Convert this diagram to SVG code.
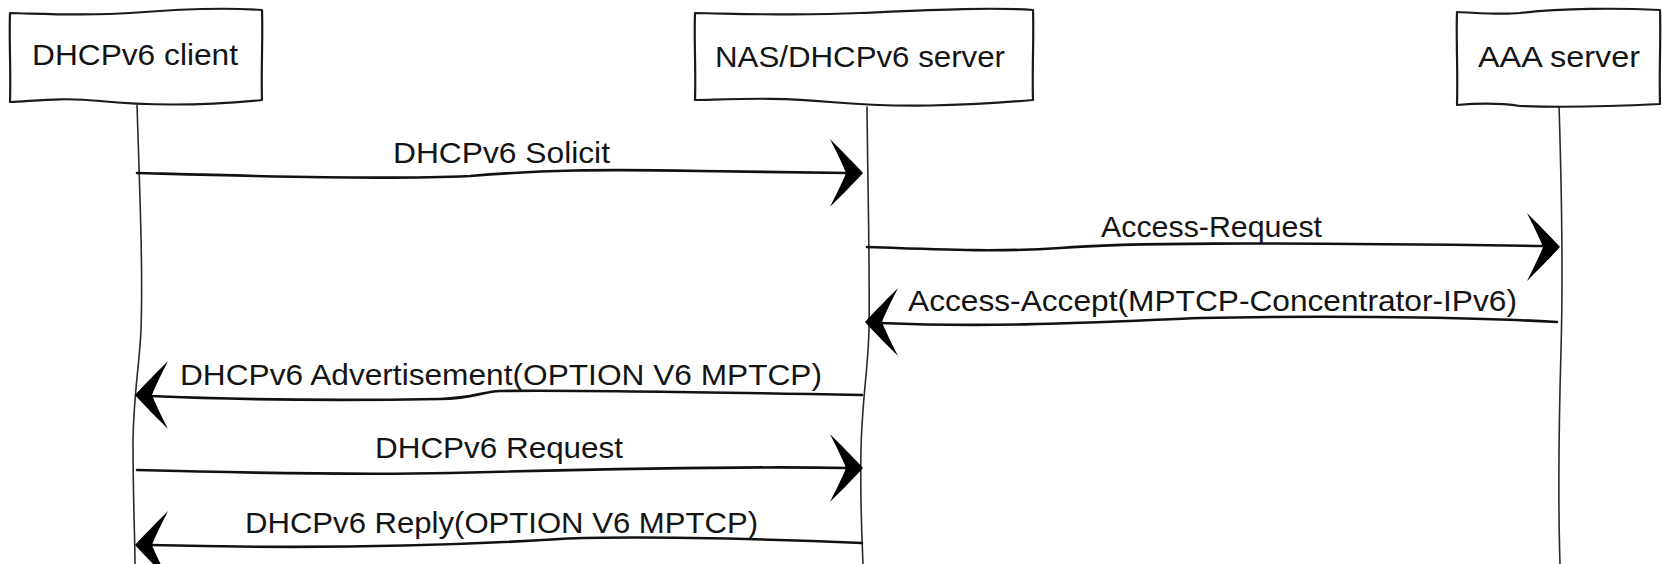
<svg xmlns="http://www.w3.org/2000/svg" xmlns:xlink="http://www.w3.org/1999/xlink" width="1662" height="564" viewBox="0 0 1662 564">
  <style>
    .box { fill: #ffffff; stroke: #1a1a1a; stroke-width: 2.2; stroke-linejoin: round; }
    .life { fill: none; stroke: #2a2a2a; stroke-width: 1.6; stroke-linecap: round; }
    .msg { fill: none; stroke: #111111; stroke-width: 2.6; stroke-linecap: round; }
    .head { fill: #000000; stroke: none; }
    .lbl { font-family: "Liberation Sans", Arial, sans-serif; font-size: 30px; fill: #141414; }
  </style>
  <defs>
    <!-- swept arrowhead, tip at the origin, pointing right -->
    <path id="ah" d="M0,0 C -9,-10 -24,-25 -33,-34 C -26,-20 -20,-8 -17,0 C -20,8 -26,20 -33,34 C -24,25 -9,10 0,0 Z"/>
  </defs>

  <rect width="1662" height="564" fill="#ffffff"/>

  <!-- lifelines -->
  <g id="lifelines">
    <path class="life" d="M137,105 C 140,200 143,270 141,330 C 139,370 134,390 133,440 C 133,500 135,540 135,564"/>
    <path class="life" d="M867,107 C 868,200 870,280 869,330 C 868,370 862,400 861,450 C 860,500 862,540 863,564"/>
    <path class="life" d="M1559,105 C 1562,200 1563,280 1561,350 C 1559,420 1558,500 1560,564"/>
  </g>

  <!-- participants -->
  <g id="dhcpv6-client">
    <path class="box" d="M10,13 C 50,14 90,16 130,13 C 180,9 220,7 262,10 C 263,40 261,70 262,100 C 200,106 150,106 100,101 C 60,97 35,101 10,102 C 11,70 9,40 10,13 Z"/>
    <text class="lbl" x="32" y="65" textLength="206" lengthAdjust="spacingAndGlyphs">DHCPv6 client</text>
  </g>
  <g id="nas-dhcpv6-server">
    <path class="box" d="M695,13 C 750,14 800,16 860,13 C 930,10 990,7 1033,10 C 1034,40 1032,70 1033,100 C 960,106 900,108 830,102 C 780,97 740,99 695,100 C 696,70 694,40 695,13 Z"/>
    <text class="lbl" x="715" y="67" textLength="290" lengthAdjust="spacingAndGlyphs">NAS/DHCPv6 server</text>
  </g>
  <g id="aaa-server">
    <path class="box" d="M1457,12 C 1480,13 1500,15 1520,13 C 1560,8 1620,8 1660,10 C 1661,40 1659,70 1660,104 C 1620,106 1570,108 1520,106 C 1500,103 1480,103 1457,105 C 1458,70 1456,40 1457,12 Z"/>
    <text class="lbl" x="1478" y="67" textLength="162" lengthAdjust="spacingAndGlyphs">AAA server</text>
  </g>

  <!-- messages -->
  <g id="connectors">
    <path class="msg" d="M137,173 C 250,176 380,180 470,176 C 540,170 600,169 700,171 L 848,173"/>
    <use xlink:href="#ah" href="#ah" class="head" transform="translate(863,173)"/>
    <text class="lbl" x="393" y="163" textLength="217" lengthAdjust="spacingAndGlyphs">DHCPv6 Solicit</text>

    <path class="msg" d="M867,247 C 950,250 1000,252 1060,248 C 1120,243 1250,242 1545,246"/>
    <use xlink:href="#ah" href="#ah" class="head" transform="translate(1560,247)"/>
    <text class="lbl" x="1101" y="237" textLength="221" lengthAdjust="spacingAndGlyphs">Access-Request</text>

    <path class="msg" d="M1557,322 C 1450,316 1300,316 1200,318 C 1100,322 1000,328 880,323"/>
    <use xlink:href="#ah" href="#ah" class="head" transform="translate(865,322) scale(-1,1)"/>
    <text class="lbl" x="908" y="311" textLength="609" lengthAdjust="spacingAndGlyphs">Access-Accept(MPTCP-Concentrator-IPv6)</text>

    <path class="msg" d="M862,395 C 700,392 560,390 500,391 C 480,392 475,398 440,399 C 320,401 220,399 150,396"/>
    <use xlink:href="#ah" href="#ah" class="head" transform="translate(135,395) scale(-1,1)"/>
    <text class="lbl" x="180" y="385" textLength="642" lengthAdjust="spacingAndGlyphs">DHCPv6 Advertisement(OPTION V6 MPTCP)</text>

    <path class="msg" d="M137,470 C 250,473 350,475 450,473 C 600,469 750,466 848,468"/>
    <use xlink:href="#ah" href="#ah" class="head" transform="translate(863,468)"/>
    <text class="lbl" x="375" y="458" textLength="248" lengthAdjust="spacingAndGlyphs">DHCPv6 Request</text>

    <path class="msg" d="M862,543 C 750,538 620,536 560,539 C 480,544 350,550 150,545"/>
    <use xlink:href="#ah" href="#ah" class="head" transform="translate(135,545) scale(-1,1)"/>
    <text class="lbl" x="245" y="533" textLength="513" lengthAdjust="spacingAndGlyphs">DHCPv6 Reply(OPTION V6 MPTCP)</text>
  </g>
</svg>
